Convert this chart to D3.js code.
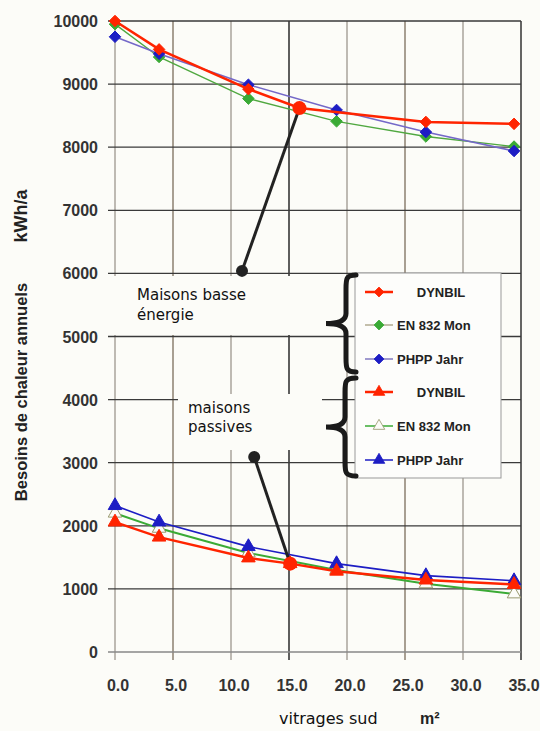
<!DOCTYPE html>
<meta charset="utf-8">
<style>
body { margin: 0; background: #fcfcf8; }
svg { display: block; font-family: Arial, "Liberation Sans", sans-serif; }
.tick-lbl { font-size: 16px; font-weight: bold; fill: #333; }
.legend { font-size: 13px; font-weight: bold; fill: #222; }
.note { font-family: "DejaVu Sans", sans-serif; font-size: 15px; fill: #111; }
</style>
<body>
<svg id="chart" width="540" height="731"></svg>
<script src="https://d3js.org/d3.v7.min.js"></script>
<script>
// x positions of glazing surfaces (m2)
var xs = [0, 3.8, 11.5, 19.1, 26.8, 34.4];
var xTicks = [0, 5, 10, 15, 20, 25, 30, 35];
var yTicks = [0, 1000, 2000, 3000, 4000, 5000, 6000, 7000, 8000, 9000, 10000];

// low-energy houses (diamonds)
var dynbilBasseX = [0, 3.8, 11.5, 15.9, 26.8, 34.4];
var dynbilBasse = [10000, 9550, 8920, 8620, 8400, 8370];
var enBasse = [9950, 9430, 8770, 8410, 8170, 8010];
var phppBasse = [9750, 9480, 8990, 8590, 8240, 7940];

// passive houses (triangles)
var dynbilPassX = [0, 3.8, 11.5, 15.1, 19.1, 26.8, 34.4];
var dynbilPass = [2060, 1820, 1490, 1400, 1280, 1140, 1070];
var enPass = [2200, 1960, 1570, 1300, 1080, 920];
var phppPass = [2320, 2060, 1670, 1400, 1210, 1130];

// annotation pointers [from, to] in data units
var pointerBasse = [[10.95, 6040], [15.9, 8620]];
var pointerPass = [[12.0, 3090], [15.1, 1400]];

var legendLabels = ["DYNBIL", "EN 832 Mon", "PHPP Jahr", "DYNBIL", "EN 832 Mon", "PHPP Jahr"];

var svg = d3.select("#chart");
var x = d3.scaleLinear().domain([0, 35]).range([115, 521]);
var y = d3.scaleLinear().domain([0, 10000]).range([652, 21]);

var red = "#ff2400", green = "#3aaa35", blue = "#1d1dc4";

// grid
var vcol = ["#aaa49c", "#8d8070", "#aaa49c", "#2a2a2a", "#aaa49c", "#8d8070", "#aaa49c", "#333"];
svg.append("g").selectAll("line").data(xTicks).enter().append("line")
  .attr("x1", d => x(d)).attr("x2", d => x(d))
  .attr("y1", y(10000)).attr("y2", y(0) + 8)
  .attr("stroke", (d, i) => vcol[i]).attr("stroke-width", 1.5);
svg.append("g").selectAll("line").data(yTicks).enter().append("line")
  .attr("x1", x(0) - 7).attr("x2", x(35))
  .attr("y1", d => y(d)).attr("y2", d => y(d))
  .attr("stroke", d => d == 0 ? "#888" : "#3a3a3a").attr("stroke-width", 1.3);

// white masks behind notes
svg.append("rect").attr("x", 114).attr("y", 276).attr("width", 240).attr("height", 59).attr("fill", "#fcfcf8");
svg.append("rect").attr("x", 178).attr("y", 394).attr("width", 144).attr("height", 56).attr("fill", "#fcfcf8");

// tick labels
svg.append("g").selectAll("text").data(yTicks).enter().append("text")
  .attr("class", "tick-lbl").attr("x", 98).attr("y", d => y(d) + 6)
  .attr("text-anchor", "end").text(d => d);
svg.append("g").selectAll("text").data(xTicks).enter().append("text")
  .attr("class", "tick-lbl").attr("x", d => x(d) + 3).attr("y", 691)
  .attr("text-anchor", "middle").text(d => d.toFixed(1));

// axis titles
svg.append("text").attr("transform", "translate(27,392) rotate(-90)")
  .attr("text-anchor", "middle").style("font-size", "16.5px").style("font-weight", "bold").attr("fill", "#222")
  .text("Besoins de chaleur annuels");
svg.append("text").attr("transform", "translate(27,216) rotate(-90)")
  .attr("text-anchor", "middle").style("font-size", "18px").style("font-weight", "bold").attr("fill", "#222")
  .text("kWh/a");
svg.append("text").attr("x", 279).attr("y", 724).attr("class", "note").style("font-size", "16px")
  .text("vitrages sud");
svg.append("text").attr("x", 420).attr("y", 724).style("font-size", "16px").style("font-weight", "bold").attr("fill", "#222")
  .text("m²");

// series
var line = d3.line().x(d => x(d[0])).y(d => y(d[1]));
function zip(a, b) { return a.map((v, i) => [v, b[i]]); }
var diamond = d3.symbol().type(d3.symbolDiamond2).size(85);
var tri = d3.symbol().type(d3.symbolTriangle).size(80);

var series = [
  {pts: zip(xs, enBasse), col: "#50a840", w: 1.4, sym: diamond, fill: green, stroke: green},
  {pts: zip(xs, phppBasse), col: "#7468c8", w: 1.5, sym: diamond, fill: blue, stroke: blue},
  {pts: zip(dynbilBasseX, dynbilBasse), col: red, w: 2.6, sym: diamond, fill: red, stroke: red},
  {pts: zip(xs, enPass), col: green, w: 2, sym: tri, fill: "#fcfcf8", stroke: "#9a9a70"},
  {pts: zip(xs, phppPass), col: blue, w: 1.6, sym: tri, fill: blue, stroke: blue},
  {pts: zip(dynbilPassX, dynbilPass), col: red, w: 2.4, sym: tri, fill: red, stroke: red}
];
series.forEach(s => {
  svg.append("path").attr("d", line(s.pts)).attr("fill", "none")
    .attr("stroke", s.col).attr("stroke-width", s.w);
  svg.append("g").selectAll("path").data(s.pts).enter().append("path")
    .attr("d", s.sym).attr("transform", d => `translate(${x(d[0])},${y(d[1])})`)
    .attr("fill", s.fill).attr("stroke", s.stroke).attr("stroke-width", 1);
});

// pointers
[pointerBasse, pointerPass].forEach(p => {
  svg.append("line").attr("x1", x(p[0][0])).attr("y1", y(p[0][1]))
    .attr("x2", x(p[1][0])).attr("y2", y(p[1][1]))
    .attr("stroke", "#222").attr("stroke-width", 3);
  svg.append("circle").attr("cx", x(p[0][0])).attr("cy", y(p[0][1])).attr("r", 6).attr("fill", "#222");
  svg.append("circle").attr("cx", x(p[1][0])).attr("cy", y(p[1][1])).attr("r", 7).attr("fill", red);
});

// notes
svg.append("text").attr("class", "note").attr("x", 137).attr("y", 300).text("Maisons basse");
svg.append("text").attr("class", "note").attr("x", 137).attr("y", 320).text("énergie");
svg.append("text").attr("class", "note").attr("x", 188).attr("y", 413).text("maisons");
svg.append("text").attr("class", "note").attr("x", 188).attr("y", 432).text("passives");

// legend
svg.append("rect").attr("x", 355).attr("y", 273).attr("width", 146).attr("height", 205)
  .attr("fill", "#fdfdfb").attr("stroke", "#999").attr("stroke-width", 1);
var rowsY = [292, 325, 359, 392, 426, 460];
var legSym = [diamond, diamond, diamond, tri, tri, tri];
var legLine = [red, "#b0aa90", "#8078c0", red, green, blue];
var legFill = [red, green, blue, red, "#fcfcf8", blue];
var legStroke = [red, green, blue, red, "#9a9a70", blue];
legendLabels.forEach((t, i) => {
  svg.append("line").attr("x1", 365).attr("x2", 393).attr("y1", rowsY[i]).attr("y2", rowsY[i])
    .attr("stroke", legLine[i]).attr("stroke-width", i % 3 == 0 ? 2.5 : 1.5);
  svg.append("path").attr("d", legSym[i]).attr("transform", `translate(379,${rowsY[i]}) scale(0.85)`)
    .attr("fill", legFill[i]).attr("stroke", legStroke[i]);
  var tx = svg.append("text").attr("class", "legend").attr("y", rowsY[i] + 5).text(t);
  if (t == "DYNBIL") tx.attr("x", 441).attr("text-anchor", "middle");
  else tx.attr("x", 397);
});

// braces
function brace(y0, y1, xv, xt, xr) {
  var ym = (y0 + y1) / 2;
  return `M${xr},${y0} C${xv},${y0} ${xv},${y0 + 4} ${xv},${y0 + 14} L${xv},${ym - 10}` +
    ` C${xv},${ym - 3} ${xv - 6},${ym} ${xt},${ym} C${xv - 6},${ym} ${xv},${ym + 3} ${xv},${ym + 10}` +
    ` L${xv},${y1 - 14} C${xv},${y1 - 4} ${xv},${y1} ${xr},${y1}`;
}
svg.append("path").attr("d", brace(275, 372, 346, 326, 356)).attr("fill", "none")
  .attr("stroke", "#1a1a1a").attr("stroke-width", 5).attr("stroke-linecap", "round");
svg.append("path").attr("d", brace(378, 476, 345, 326, 356)).attr("fill", "none")
  .attr("stroke", "#1a1a1a").attr("stroke-width", 5).attr("stroke-linecap", "round");
</script>
</body>
